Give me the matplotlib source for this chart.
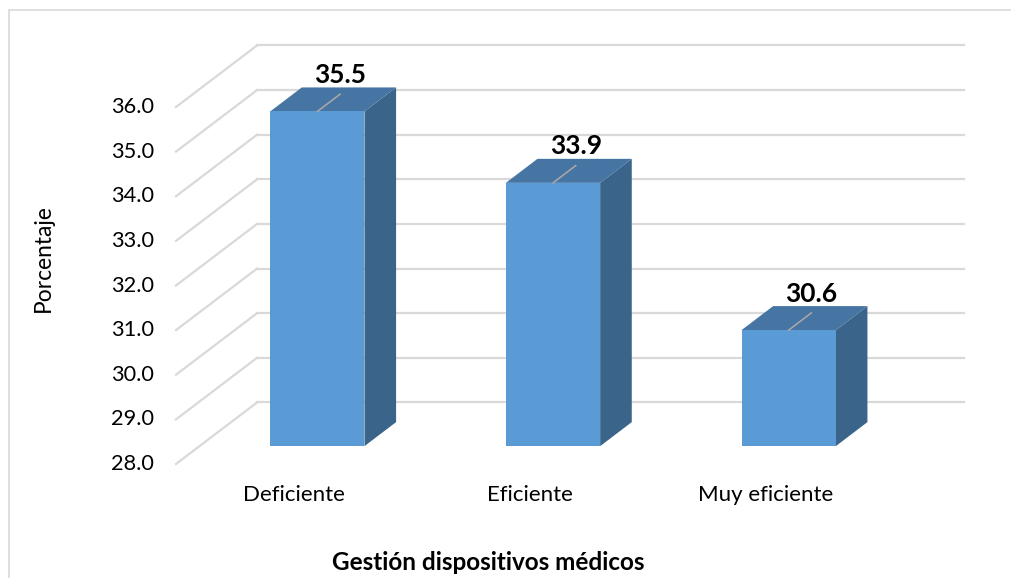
import matplotlib.pyplot as plt
from matplotlib.patches import Polygon, Rectangle

categorias = ["Deficiente", "Eficiente", "Muy eficiente"]
porcentajes = [35.5, 33.9, 30.6]
ticks = [28.0, 29.0, 30.0, 31.0, 32.0, 33.0, 34.0, 35.0, 36.0]
titulo_x = "Gestión dispositivos médicos"
titulo_y = "Porcentaje"

# "profundidad" del efecto 3D (en unidades de datos)
DX = 0.344
DY = 1.38
D0, D1 = 0.29, 0.68
ANCHO = 0.40
BASE = 28.0

plt.rcParams['font.family'] = ['Lato', 'DejaVu Sans']

fig = plt.figure(figsize=(10.12, 5.78), dpi=100)
W, H = 1012, 578
ax = fig.add_axes([176 / W, (H - 464) / H, 707 / W, 357 / H])
ax.set_xlim(-0.5, 2.5)
ax.set_ylim(28, 36)
ax.axis('off')

# marco del grafico
fig.patches.append(Rectangle((9 / W, -0.1), 1.2, (H - 10) / H + 0.1, transform=fig.transFigure,
                             fill=False, edgecolor='#D9D9D9', lw=1.2))

grid_c = '#D9D9D9'
for t in ticks:
    # pared del fondo
    ax.plot([-0.5 + DX, 2.5 + DX], [t + DY, t + DY], color=grid_c, lw=1.6, zorder=1, clip_on=False)
    # pared lateral
    ax.plot([-0.5, -0.5 + DX], [t, t + DY], color=grid_c, lw=1.6, zorder=1, clip_on=False)
    ax.annotate(f"{t:.1f}", (-0.5, t), xytext=(-16, 0), textcoords='offset points',
                ha='right', va='center', fontsize=15.7, color='black', annotation_clip=False)

frente = '#5B9BD5'
arriba = '#4674A3'
lado = '#3A6489'
for i, v in enumerate(porcentajes):
    x0 = i - ANCHO / 2
    x1 = i + ANCHO / 2
    fx0, fx1 = x0 + D0 * DX, x1 + D0 * DX
    bx0, bx1 = x0 + D1 * DX, x1 + D1 * DX
    yb0, yb1 = BASE + D0 * DY, BASE + D1 * DY
    yt0, yt1 = v + D0 * DY, v + D1 * DY
    ax.add_patch(Polygon([(fx1, yb0), (bx1, yb1), (bx1, yt1), (fx1, yt0)],
                         closed=True, facecolor=lado, edgecolor='none', zorder=3, clip_on=False))
    ax.add_patch(Polygon([(fx0, yt0), (fx1, yt0), (bx1, yt1), (bx0, yt1)],
                         closed=True, facecolor=arriba, edgecolor='none', zorder=3, clip_on=False))
    ax.add_patch(Polygon([(fx0, yb0), (fx1, yb0), (fx1, yt0), (fx0, yt0)],
                         closed=True, facecolor=frente, edgecolor='none', zorder=4, clip_on=False))
    # linea guia + etiqueta
    lx0, ly0 = i + D0 * DX, yt0
    lx1, ly1 = i + (D0 + 0.28) * DX, v + (D0 + 0.28) * DY
    ax.plot([lx0, lx1], [ly0, ly1], color='#A6A6A6', lw=1.2, zorder=5, clip_on=False)
    ax.annotate(f"{v:.1f}", (lx1, ly1), xytext=(0, 8), textcoords='offset points',
                ha='center', va='baseline', fontsize=19, fontweight='bold', color='black',
                annotation_clip=False)
    ax.annotate(categorias[i], (i, BASE), xytext=(0, -22), textcoords='offset points',
                ha='center', va='center', fontsize=16, color='black', annotation_clip=False)

fig.text(488 / W, 1 - 562 / H, titulo_x, ha='center', va='center', fontsize=17.5, fontweight='bold')
fig.text(43 / W, 1 - 258 / H, titulo_y, ha='center', va='center', rotation=90, fontsize=16.4)

fig.savefig("out.png", dpi=100)
